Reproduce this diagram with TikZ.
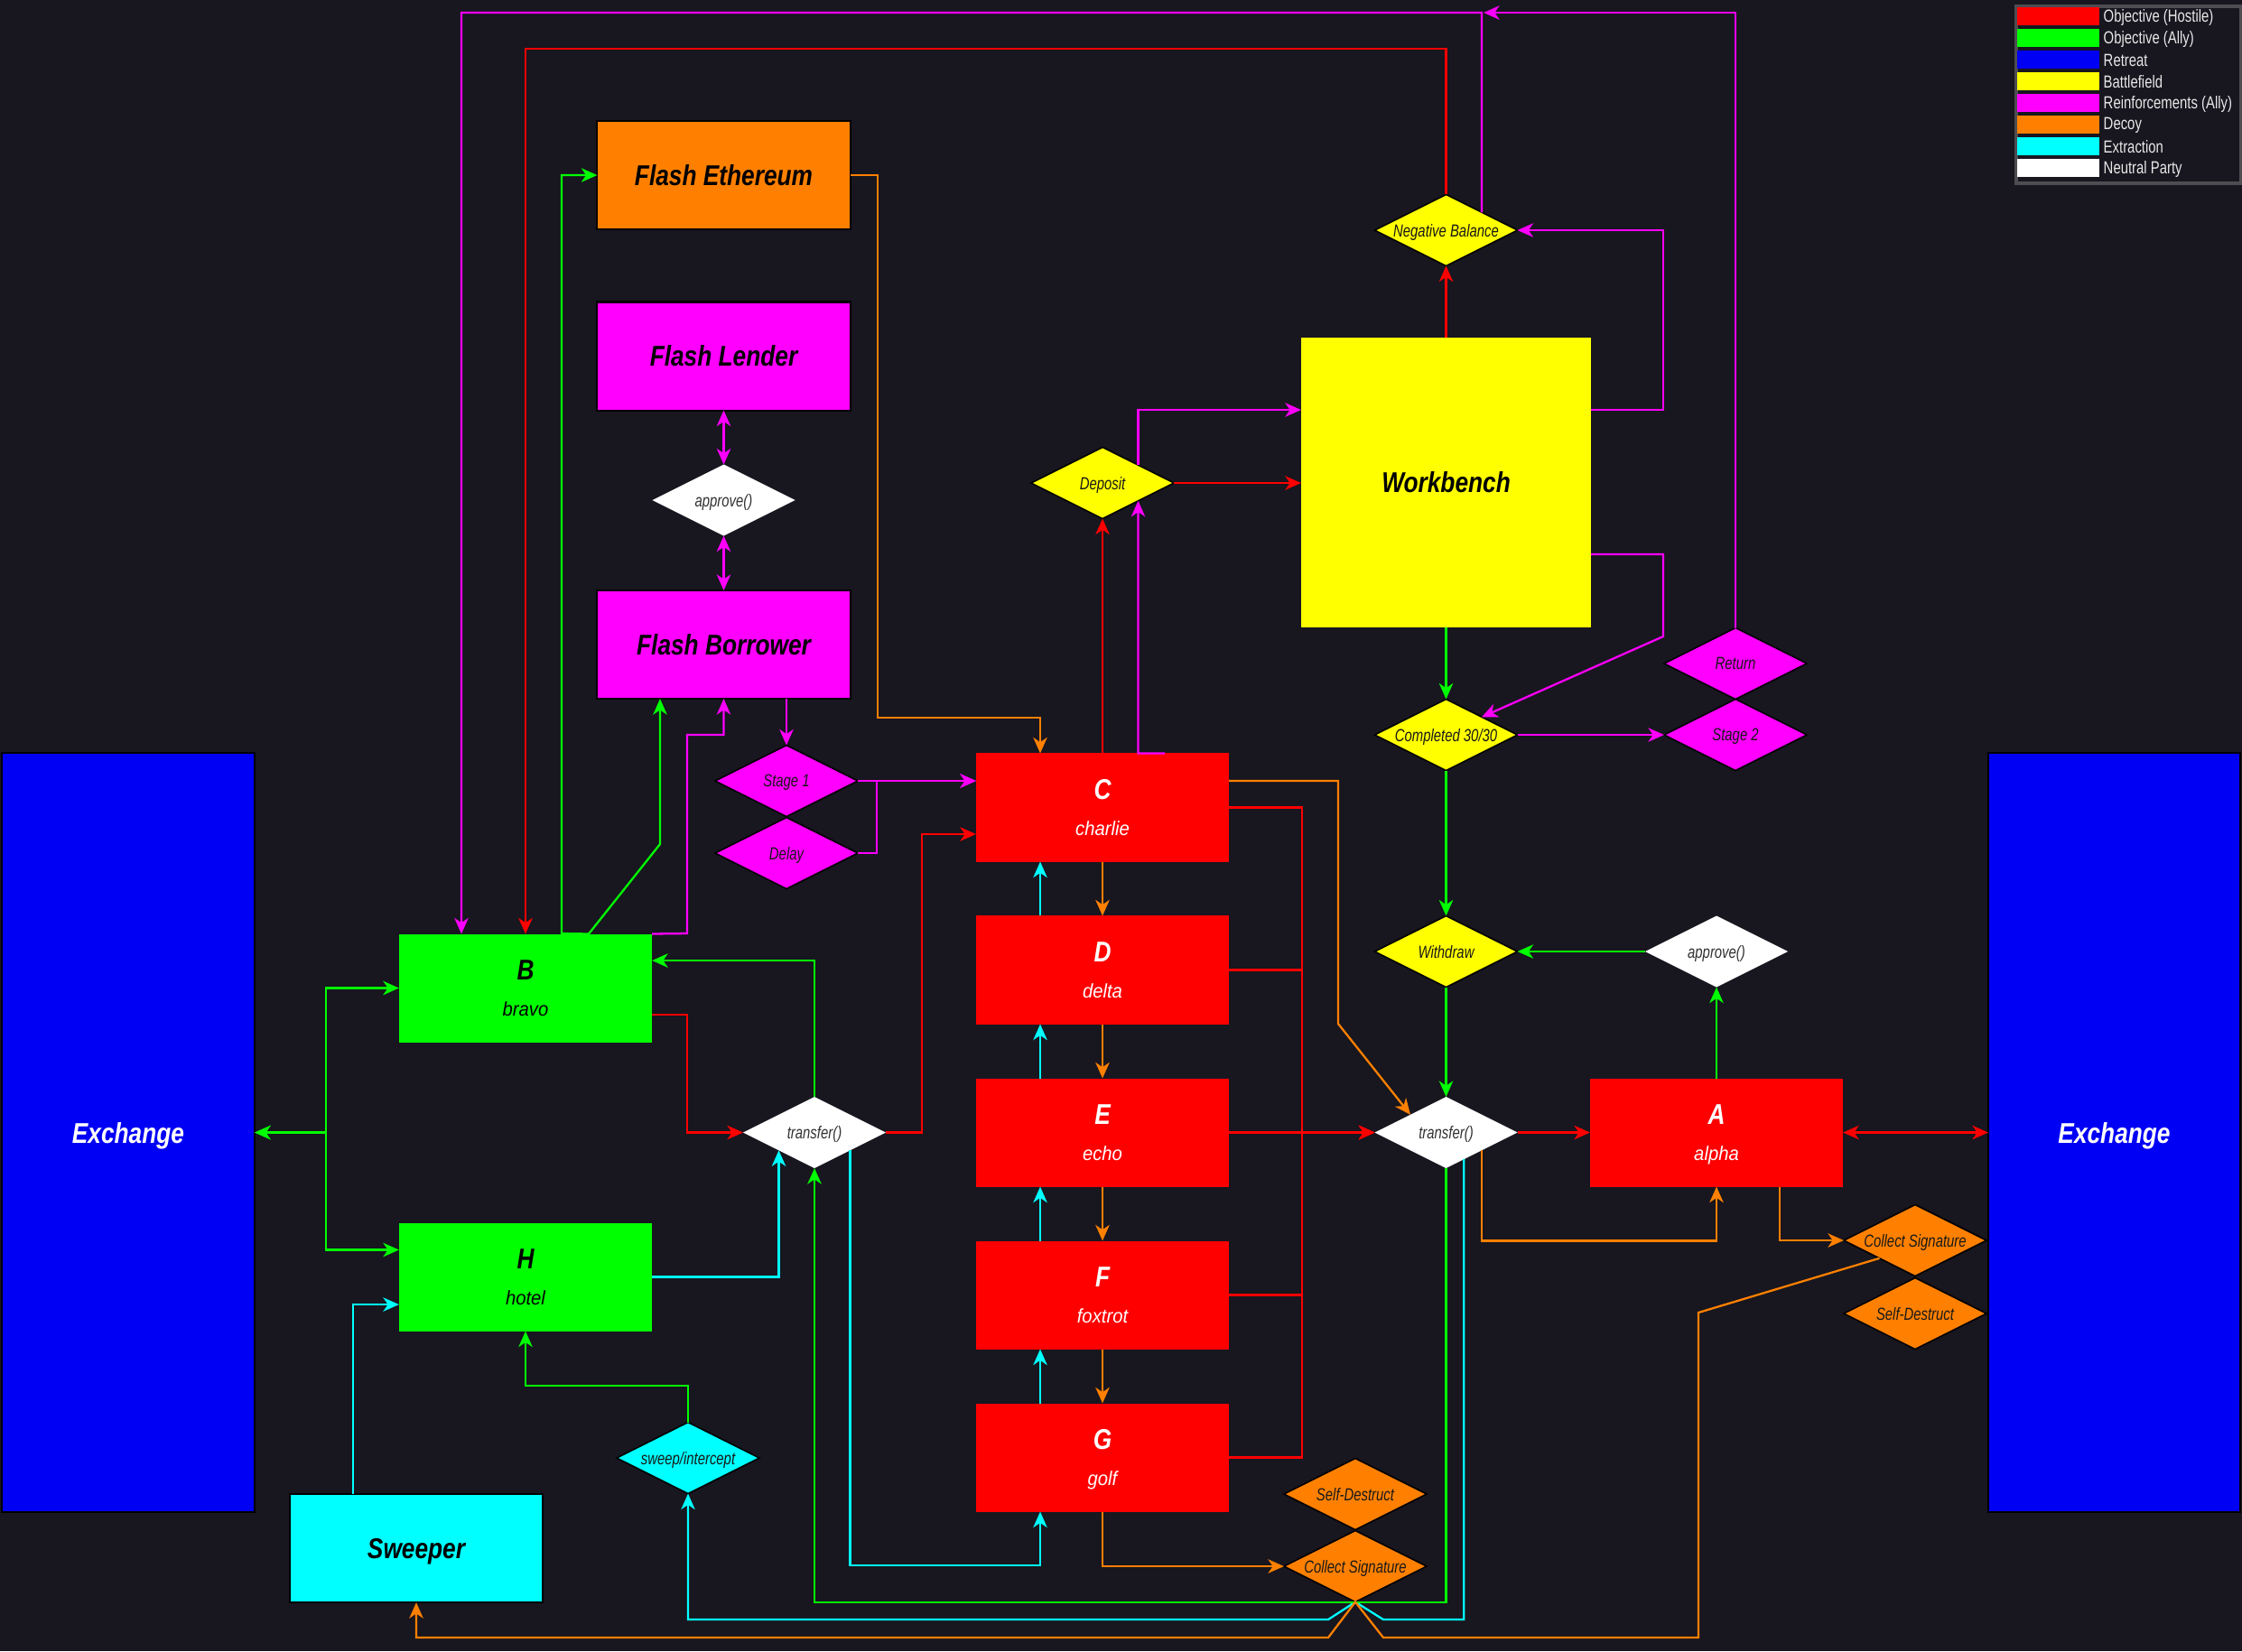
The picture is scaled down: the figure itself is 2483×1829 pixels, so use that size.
\documentclass[tikz,border=0pt]{standalone}
\usepackage{fontspec}
\setmainfont{Liberation Sans}
\newfontfamily\smallfam{Liberation Sans}[FakeStretch=0.77]
\newfontfamily\titlefam{Liberation Sans}[FakeStretch=0.83]
\newfontfamily\namefam{Liberation Sans}[FakeStretch=0.93]
\usetikzlibrary{arrows.meta,calc,shapes.geometric}

\definecolor{bg}{RGB}{24,22,31}
\definecolor{cred}{RGB}{255,0,0}
\definecolor{cgreen}{RGB}{0,255,0}
\definecolor{cblue}{RGB}{0,0,245}
\definecolor{cyel}{RGB}{255,255,0}
\definecolor{cmag}{RGB}{255,0,255}
\definecolor{corg}{RGB}{255,128,0}
\definecolor{ccyan}{RGB}{0,255,255}
\definecolor{legframe}{RGB}{78,77,82}
\definecolor{legtext}{RGB}{232,232,232}
\definecolor{txtdark}{RGB}{25,25,25}
\definecolor{txtgray}{RGB}{50,50,50}

\tikzset{
  rbox/.style={rectangle, minimum width=2.8cm, minimum height=1.2cm, inner sep=0pt, outer sep=0pt},
  rim/.style={draw=black, line width=0.6pt},
  ttl/.style={font=\titlefam\fontsize{9}{10}\selectfont\bfseries\itshape, text depth=0pt},
  boxletter/.style={ttl, inner sep=0pt},
  nm/.style={font=\namefam\fontsize{6.2}{7}\selectfont\itshape, inner sep=0pt, text height=4.5pt, text depth=0pt},
  dia/.style={diamond, shape aspect=2, minimum width=1.58cm, minimum height=0.79cm, inner sep=0pt, outer sep=0pt,
              font=\smallfam\fontsize{5.5}{6}\selectfont\itshape, text depth=0pt},
  dkdia/.style={dia, draw=black, line width=0.45pt, text=txtdark},
  ltdia/.style={dia, fill=white, text=txtgray},
  conn/.style={line width=0.65pt, ->},
  bi/.style={line width=0.65pt, <->},
  swatch/.style={rectangle, minimum width=0.91cm, minimum height=0.194cm, inner sep=0pt},
  legtxt/.style={anchor=west, inner sep=0pt, text=legtext, font=\smallfam\fontsize{5.5}{6}\selectfont},
}

\begin{document}
\begin{tikzpicture}[x=0.01cm, y=-0.01cm, >={Stealth[length=5pt,width=4.4pt,inset=1.5pt]}]
\fill[bg] (0,0) rectangle (2483,1829);
\useasboundingbox (0,0) rectangle (2483,1829);

% ---------- flash loan column ----------
\node[rbox, rim, fill=corg, ttl] (FE) at (801.5,194) {Flash Ethereum};
\node[rbox, rim, fill=cmag, ttl] (FL) at (801.5,394.5) {Flash Lender};
\node[ltdia] (apL) at (801.5,554) {approve()};
\node[rbox, rim, fill=cmag, ttl] (FB) at (801.5,714) {Flash Borrower};
\node[dkdia, fill=cmag] (st1) at (871,865) {Stage 1};
\node[dkdia, fill=cmag] (dly) at (871,945) {Delay};

% ---------- hostile chain ----------
\foreach \n/\w/\y in {C/charlie/894.5, D/delta/1074.5, E/echo/1254.5, F/foxtrot/1434.5, G/golf/1614.5} {
  \node[rbox, fill=cred] (\n) at (1221,\y) {};
  \node[boxletter, text=white] (\n-l) at ($(\n.center)+(0,-20)$) {\n};
  \node[nm, text=white] (\n-n) at ($(\n.center)+(0,23)$) {\w};
}
\node[rbox, fill=cred] (A) at (1901,1254.5) {};
\node[boxletter, text=white] (A-l) at ($(A.center)+(0,-20)$) {A};
\node[nm, text=white] (A-n) at ($(A.center)+(0,23)$) {alpha};

% ---------- allies ----------
\node[rbox, fill=cgreen] (B) at (582,1094.5) {};
\node[boxletter, text=black] (B-l) at ($(B.center)+(0,-20)$) {B};
\node[nm, text=black] (B-n) at ($(B.center)+(0,23)$) {bravo};
\node[rbox, fill=cgreen] (H) at (582,1414.5) {};
\node[boxletter, text=black] (H-l) at ($(H.center)+(0,-20)$) {H};
\node[nm, text=black] (H-n) at ($(H.center)+(0,23)$) {hotel};

% ---------- battlefield ----------
\node[rbox, fill=cyel, minimum width=3.21cm, minimum height=3.21cm, ttl] (WB) at (1601.5,534.5) {Workbench};
\node[dkdia, fill=cyel] (dep) at (1221,535) {Deposit};
\node[dkdia, fill=cyel] (NB) at (1601.5,255) {Negative Balance};
\node[dkdia, fill=cyel] (comp) at (1601.5,814) {Completed 30/30};
\node[dkdia, fill=cmag] (ret) at (1922,735) {Return};
\node[dkdia, fill=cmag] (st2) at (1922,814) {Stage 2};
\node[dkdia, fill=cyel] (wd) at (1601.5,1054) {Withdraw};
\node[ltdia] (apR) at (1901,1054) {approve()};
\node[ltdia] (trR) at (1601.5,1254.5) {transfer()};
\node[ltdia] (trL) at (902,1254.5) {transfer()};

% ---------- exchanges ----------
\node[rbox, rim, fill=cblue, minimum height=8.4cm, ttl, text=white] (exL) at (142,1254.5) {Exchange};
\node[rbox, rim, fill=cblue, minimum width=2.79cm, minimum height=8.4cm, ttl, text=white] (exR) at (2341.5,1254.5) {Exchange};

% ---------- extraction and decoys ----------
\node[dkdia, fill=ccyan] (swi) at (762,1615) {sweep/intercept};
\node[rbox, rim, fill=ccyan, ttl] (swp) at (461,1715) {Sweeper};
\node[dkdia, fill=corg] (sdB) at (1501,1655) {Self-Destruct};
\node[dkdia, fill=corg] (csB) at (1501,1735) {Collect Signature};
\node[dkdia, fill=corg] (csR) at (2121,1374) {Collect Signature};
\node[dkdia, fill=corg] (sdR) at (2121,1455) {Self-Destruct};

% ---------- connectors: flash loan ----------
\draw[bi, cmag] (FL.south) -- (apL.north);
\draw[bi, cmag] (apL.south) -- (FB.north);
\draw[conn, corg] (FE.east) -| (972,795) -| ($(C.north)+(-69,0)$);
\draw[conn, cgreen] ($(B.north)+(70,0)$) -- (622,1034) |- (FE.west);
\draw[conn, cgreen] ($(B.north)+(70,0)$) -- (731,935) -- ($(FB.south)+(-70.5,0)$);
\draw[conn, cmag] (B.north east) -- (761,1034) |- (801.5,814) -- (FB.south);
\draw[conn, cmag] (st1.north |- FB.south) -- (st1.north);
\draw[conn, cmag] (st1.east) -- (st1.east -| C.west);
\draw[conn, cmag] (dly.east) -| (971,865) -- (st1.east -| C.west);

% ---------- connectors: left transfer ----------
\draw[conn, cred] (trL.east) -| (1021,924) -- ($(C.west)+(0,29.5)$);
\draw[conn, cred] ($(B.east)+(0,29.5)$) -| (761,1254.5) -- (trL.west);
\draw[conn, cgreen] (trL.north) |- ($(B.east)+(0,-30.5)$);
\draw[bi, cgreen] (exL.east) -- (361,1254.5) |- (B.west);
\draw[bi, cgreen] (exL.east) -- (361,1254.5) |- ($(H.west)+(0,-30)$);
\draw[conn, ccyan] ($(swp.north)+(-70,0)$) |- ($(H.west)+(0,30.5)$);
\draw[conn, ccyan] (H.east) -| ($(trL.west)!0.5!(trL.south)$);
\draw[conn, cgreen] (swi.north) -- (762,1535) -| (H.south);

% ---------- connectors: bottom returns ----------
\draw[conn, ccyan] ($(trR.south)!0.25!(trR.east)$) |- (1532,1794) -- (csB.south) -- (1471,1794) -| (swi.south);
\draw[conn, cgreen] (trR.south) -- (1601.5,1775) -| (trL.south);
\draw[conn, corg] ($(csR.west)!0.5!(csR.south)$) -- (1881,1454) -- (1881,1814) -- (1532,1814) -- (csB.south) -- (1471,1814) -| (swp.south);
\draw[conn, ccyan] ($(trL.south)!0.5!(trL.east)$) |- ($(G.south)+(-69,59.5)$) -- ($(G.south)+(-69,0)$);
\draw[conn, corg] (G.south) |- (csB.west);

% ---------- connectors: hostile chain ----------
\foreach \u/\l in {C/D, D/E, E/F, F/G} {
  \draw[conn, corg] (\u.south) -- (\l.north);
  \draw[conn, ccyan] ($(\l.north)+(-69,0)$) -- ($(\u.south)+(-69,0)$);
}
\draw[conn, cred] (C.north) -- (dep.south);
\draw[conn, cmag] ($(C.north)+(69,0)$) -- ($(C.north)+(39.5,0)$) -- ($(dep.south)!0.5!(dep.east)$);
\draw[conn, cmag] ($(dep.north)!0.5!(dep.east)$) |- ($(WB.west)+(0,-80.5)$);
\draw[conn, cred] (dep.east) -- (dep.east -| WB.west);

% ---------- connectors: battlefield ----------
\draw[conn, cred] (WB.north) -- (NB.south);
\draw[conn, cred] (NB.north) -- (1601.5,54) -| (B.north);
\draw[conn, cmag] ($(NB.north)!0.5!(NB.east)$) -- (1641,14) -| ($(B.north)+(-71,0)$);
\coordinate (jn) at (1643,14);
\draw[conn, cmag] (ret.north) |- (jn);
\draw[conn, cmag] ($(WB.east)+(0,-80.5)$) -| (1842,255) -- (NB.east);
\draw[conn, cmag] ($(WB.east)+(0,79.5)$) -| (1842,705) -- ($(comp.north)!0.5!(comp.east)$);
\draw[conn, cgreen] (WB.south) -- (comp.north);
\draw[conn, cmag] (comp.east) -- (st2.west);
\draw[conn, cgreen] (comp.south) -- (wd.north);
\draw[conn, cgreen] (apR.west) -- (wd.east);
\draw[conn, cgreen] (A.north) -- (apR.south);
\draw[conn, cgreen] (wd.south) -- (trR.north);

% ---------- connectors: right transfer ----------
\draw[conn, cred] (E.east) -- (trR.west);
\foreach \n in {C,D,F,G} \draw[conn, cred] (\n.east) -| (1442,1254.5) -- (trR.west);
\draw[conn, corg] ($(C.east)+(0,-29.5)$) -| (1482,1134) -- ($(trR.west)!0.5!(trR.north)$);
\draw[conn, cred] (trR.east) -- (A.west);
\draw[bi, cred] (A.east) -- (exR.west);
\draw[conn, corg] ($(trR.south)!0.5!(trR.east)$) |- ($(A.south)+(0,60)$) -- (A.south);
\draw[conn, corg] ($(A.south)+(70,0)$) |- (csR.west);

% ---------- legend ----------
\node[draw=legframe, line width=1pt, minimum width=2.49cm, minimum height=1.96cm, inner sep=0pt, anchor=north west] (legend) at (2231,5) {};
\foreach \c/\t [count=\i] in {cred/Objective (Hostile), cgreen/Objective (Ally), cblue/Retreat, cyel/Battlefield, cmag/Reinforcements (Ally), corg/Decoy, ccyan/Extraction, white/Neutral Party} {
  \node[swatch, fill=\c] (sw\i) at (2279.5,{18+24*(\i-1)}) {};
  \node[legtxt] (lt\i) at (2329,{19+24*(\i-1)}) {\t};
}
\end{tikzpicture}
\end{document}
